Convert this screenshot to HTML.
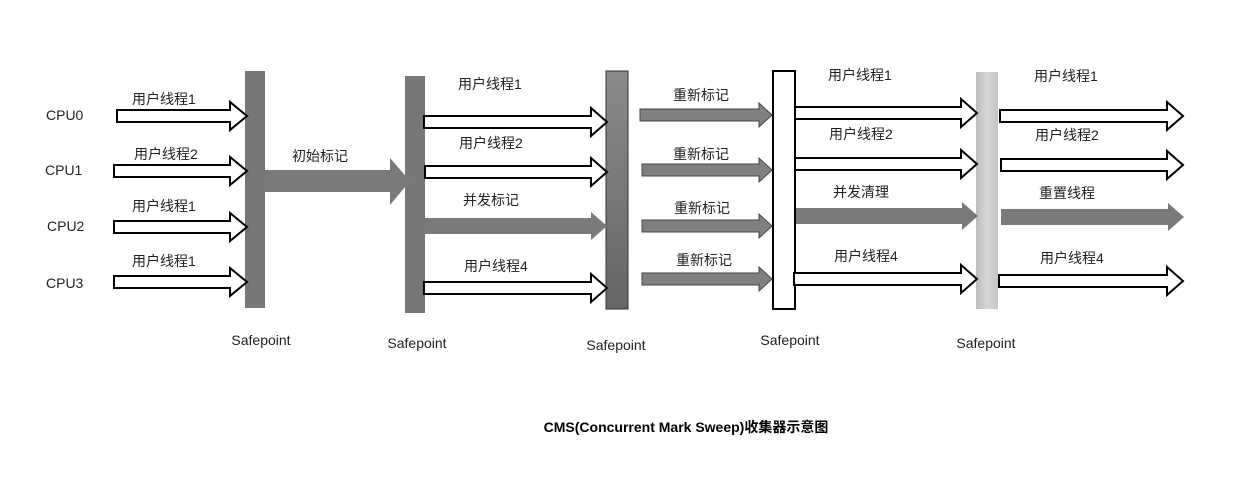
<!DOCTYPE html>
<html><head><meta charset="utf-8"><style>
html,body{margin:0;padding:0;background:#fff;}
svg{display:block;}
text{font-family:"Liberation Sans","Noto Sans CJK SC",sans-serif;font-size:14px;fill:#222;}
</style></head><body>
<svg width="1252" height="486" viewBox="0 0 1252 486" xmlns="http://www.w3.org/2000/svg">
<defs>
<linearGradient id="g3" x1="0" x2="0" y1="0" y2="1"><stop offset="0" stop-color="#8a8a8a"/><stop offset="1" stop-color="#666"/></linearGradient>
<linearGradient id="g5" x1="0" x2="1" y1="0" y2="0"><stop offset="0" stop-color="#bdbdbd"/><stop offset="0.5" stop-color="#d6d6d6"/><stop offset="1" stop-color="#c4c4c4"/></linearGradient>
</defs>
<!-- bars -->
<rect x="245" y="71" width="20" height="237" fill="#777"/>
<rect x="405" y="76" width="20" height="237" fill="#777"/>
<rect x="606" y="71" width="22" height="238" fill="url(#g3)" stroke="#333" stroke-width="1"/>
<rect x="773" y="71" width="22" height="238" fill="#fff" stroke="#000" stroke-width="2"/>
<rect x="976" y="72" width="22" height="237" fill="url(#g5)"/>

<g fill="#fff" stroke="#000" stroke-width="2">
<!-- col1 -->
<polygon points="117,110 230,110 230,102 247,116 230,130 230,122 117,122"/>
<polygon points="114,165 230,165 230,157 247,171 230,185 230,177 114,177"/>
<polygon points="114,221 230,221 230,213 247,227 230,241 230,233 114,233"/>
<polygon points="114,276 230,276 230,268 247,282 230,296 230,288 114,288"/>
<!-- col2 -->
<polygon points="424,116 591,116 591,108 607,122 591,136 591,128 424,128"/>
<polygon points="425,166 591,166 591,158 607,172 591,186 591,178 425,178"/>
<polygon points="424,282 591,282 591,274 607,288 591,302 591,294 424,294"/>
<!-- col4 -->
<polygon points="795,107 961,107 961,99 977,113 961,127 961,119 795,119"/>
<polygon points="795,158 961,158 961,150 977,164 961,178 961,170 795,170"/>
<polygon points="794,273 961,273 961,265 977,279 961,293 961,285 794,285"/>
<!-- col5 -->
<polygon points="1000,110 1167,110 1167,102 1183,116 1167,130 1167,122 1000,122"/>
<polygon points="1001,159 1167,159 1167,151 1183,165 1167,179 1167,171 1001,171"/>
<polygon points="999,275 1167,275 1167,267 1183,281 1167,295 1167,287 999,287"/>
</g>

<g fill="#7a7a7a">
<polygon points="265,170 390,170 390,158 410,181 390,205 390,192 265,192"/>
<polygon points="425,218 591,218 591,212 607,226 591,240 591,234 425,234"/>
<polygon points="796,208 962,208 962,202 978,216 962,230 962,224 796,224"/>
<polygon points="1001,209 1168,209 1168,203 1184,217 1168,231 1168,225 1001,225"/>
</g>
<g fill="#808080" stroke="#444" stroke-width="1">
<polygon points="640,109 759,109 759,103 772,115 759,127 759,121 640,121"/>
<polygon points="642,164 759,164 759,158 772,170 759,182 759,176 642,176"/>
<polygon points="642,220 759,220 759,214 772,226 759,238 759,232 642,232"/>
<polygon points="642,273 759,273 759,267 772,279 759,291 759,285 642,285"/>
</g>

<!-- labels -->
<text x="46" y="120">CPU0</text>
<text x="45" y="175">CPU1</text>
<text x="47" y="231">CPU2</text>
<text x="46" y="288">CPU3</text>
<text x="132" y="104">用户线程1</text>
<text x="134" y="159">用户线程2</text>
<text x="132" y="211">用户线程1</text>
<text x="132" y="266">用户线程1</text>
<text x="292" y="161">初始标记</text>
<text x="458" y="89">用户线程1</text>
<text x="459" y="148">用户线程2</text>
<text x="463" y="205">并发标记</text>
<text x="464" y="271">用户线程4</text>
<text x="673" y="100">重新标记</text>
<text x="673" y="159">重新标记</text>
<text x="674" y="213">重新标记</text>
<text x="676" y="265">重新标记</text>
<text x="828" y="80">用户线程1</text>
<text x="829" y="139">用户线程2</text>
<text x="833" y="197">并发清理</text>
<text x="834" y="261">用户线程4</text>
<text x="1034" y="81">用户线程1</text>
<text x="1035" y="140">用户线程2</text>
<text x="1039" y="198">重置线程</text>
<text x="1040" y="263">用户线程4</text>
<text x="261" y="345" text-anchor="middle">Safepoint</text>
<text x="417" y="348" text-anchor="middle">Safepoint</text>
<text x="616" y="350" text-anchor="middle">Safepoint</text>
<text x="790" y="345" text-anchor="middle">Safepoint</text>
<text x="986" y="348" text-anchor="middle">Safepoint</text>
<text x="686" y="432" text-anchor="middle" style="font-weight:bold;font-size:14px;fill:#000">CMS(Concurrent Mark Sweep)收集器示意图</text>
</svg>
</body></html>
